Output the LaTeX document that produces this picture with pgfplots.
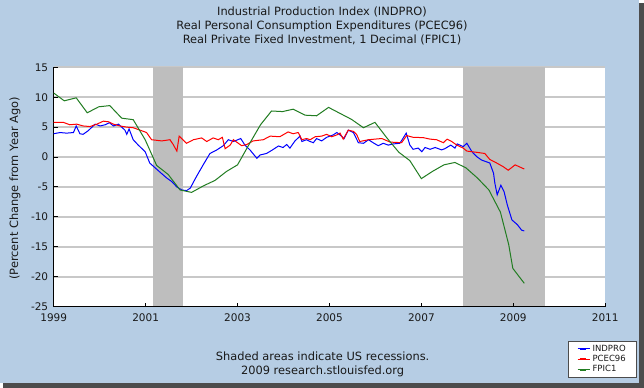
\documentclass[border=0pt]{standalone}
\usepackage{pgfplots}
\pgfplotsset{compat=1.18}
\usepackage{fontspec}
\setmainfont{DejaVu Sans}
\definecolor{bgblue}{RGB}{182,205,228}
\definecolor{recgray}{RGB}{190,190,190}
\definecolor{gridgray}{RGB}{200,200,200}
\definecolor{fgreen}{RGB}{34,125,34}
\definecolor{txt}{RGB}{25,25,25}

\pgfplotstableread{
x y
1999.00 3.9
1999.14 4.1
1999.28 4.0
1999.43 4.1
1999.49 5.2
1999.57 3.9
1999.64 3.8
1999.75 4.4
1999.90 5.5
2000.01 5.2
2000.12 5.4
2000.21 5.75
2000.30 5.2
2000.41 5.5
2000.55 4.5
2000.59 3.8
2000.64 4.7
2000.73 2.9
2000.84 2.0
2000.99 0.9
2001.09 -1.0
2001.31 -2.5
2001.46 -3.5
2001.57 -4.1
2001.68 -5.0
2001.79 -5.5
2001.89 -5.6
2001.97 -5.2
2002.11 -3.2
2002.26 -1.2
2002.40 0.6
2002.55 1.2
2002.69 1.9
2002.80 2.9
2002.91 2.6
2003.07 3.1
2003.16 2.0
2003.27 1.2
2003.42 -0.2
2003.49 0.35
2003.63 0.6
2003.74 1.1
2003.89 1.85
2003.99 1.6
2004.07 2.1
2004.14 1.5
2004.25 2.7
2004.36 3.5
2004.40 2.6
2004.50 2.9
2004.58 2.6
2004.65 2.4
2004.72 3.1
2004.83 2.7
2004.94 3.3
2005.08 3.7
2005.16 4.1
2005.23 3.7
2005.32 3.1
2005.41 4.5
2005.52 4.1
2005.63 2.4
2005.74 2.3
2005.85 2.9
2005.95 2.4
2006.06 1.9
2006.17 2.3
2006.28 2.0
2006.39 2.2
2006.53 2.3
2006.59 3.0
2006.67 4.0
2006.75 2.0
2006.82 1.3
2006.93 1.5
2007.01 0.9
2007.08 1.6
2007.19 1.3
2007.30 1.6
2007.44 1.2
2007.51 1.4
2007.64 2.0
2007.73 1.5
2007.78 2.2
2007.91 1.75
2007.99 2.3
2008.10 0.9
2008.20 0.1
2008.31 -0.5
2008.42 -0.8
2008.49 -1.0
2008.57 -2.7
2008.60 -4.4
2008.65 -6.3
2008.73 -4.7
2008.80 -5.8
2008.87 -8.0
2008.97 -10.5
2009.09 -11.3
2009.18 -12.2
2009.24 -12.35
}\indpro

\pgfplotstableread{
x y
1999.00 5.8
1999.21 5.8
1999.35 5.4
1999.50 5.5
1999.64 5.2
1999.79 5.1
1999.94 5.5
2000.08 6.0
2000.19 5.9
2000.30 5.5
2000.44 5.2
2000.59 5.0
2000.73 4.9
2000.88 4.5
2001.02 4.1
2001.13 2.9
2001.35 2.7
2001.53 2.9
2001.60 2.1
2001.68 1.0
2001.73 3.5
2001.89 2.3
2002.04 2.9
2002.22 3.2
2002.33 2.6
2002.47 3.2
2002.58 2.9
2002.67 3.3
2002.73 1.4
2002.84 2.0
2002.91 2.9
2003.09 1.9
2003.20 2.1
2003.34 2.7
2003.56 2.9
2003.71 3.5
2003.92 3.4
2004.10 4.2
2004.21 3.9
2004.32 4.1
2004.40 2.9
2004.50 3.1
2004.58 2.9
2004.69 3.4
2004.83 3.5
2004.94 3.8
2005.05 3.4
2005.16 3.7
2005.23 4.0
2005.30 3.0
2005.41 4.5
2005.52 4.3
2005.59 3.8
2005.66 2.6
2005.85 2.9
2005.99 3.0
2006.14 3.1
2006.32 2.5
2006.57 2.4
2006.68 3.6
2006.82 3.3
2007.04 3.25
2007.19 3.0
2007.33 2.9
2007.48 2.4
2007.56 3.0
2007.66 2.6
2007.77 2.0
2007.91 1.5
2007.99 1.0
2008.20 0.8
2008.38 0.6
2008.49 -0.4
2008.64 -1.0
2008.78 -1.6
2008.89 -2.2
2009.04 -1.3
2009.24 -2.0
}\pcec

\pgfplotstableread{
x y
1999.00 10.7
1999.23 9.4
1999.49 9.9
1999.73 7.4
1999.98 8.4
2000.22 8.6
2000.48 6.5
2000.73 6.25
2000.99 2.9
2001.24 -1.4
2001.49 -2.9
2001.75 -5.5
2002.00 -5.9
2002.26 -4.8
2002.51 -3.9
2002.76 -2.4
2003.00 -1.3
2003.25 2.1
2003.50 5.4
2003.74 7.7
2003.98 7.6
2004.21 8.0
2004.47 7.0
2004.72 6.9
2004.98 8.3
2005.23 7.3
2005.48 6.3
2005.74 4.9
2005.99 5.8
2006.25 3.2
2006.51 0.8
2006.75 -0.6
2007.00 -3.6
2007.24 -2.4
2007.49 -1.3
2007.73 -0.9
2007.97 -1.8
2008.22 -3.5
2008.47 -5.5
2008.72 -9.2
2008.90 -14.6
2008.99 -18.6
2009.24 -21.1
}\fpic

\begin{document}
\begin{tikzpicture}
\useasboundingbox (0bp,0bp) rectangle (644bp,388bp);
\fill[black!70] (3bp,0bp) rectangle (644bp,385bp);
\fill[bgblue] (0bp,4.5bp) rectangle (638.5bp,388bp);

% background axis: white area, grid, recession shading
\begin{axis}[
  at={(53.7bp,81.3bp)}, anchor=south west,
  scale only axis, width=551.5bp, height=239.4bp,
  xmin=1999, xmax=2011, ymin=-25, ymax=15,
  axis x line*=bottom, axis y line*=left,
  axis line style={draw=none}, tick style={draw=none},
  xtick={1999,2001,...,2011}, ytick={-25,-20,...,15},
  xticklabels={}, yticklabels={},
  ymajorgrids, grid style={gridgray, line width=1.6bp},
  axis background/.style={fill=white},
]
\addplot[fill=recgray, draw=none] coordinates {(2001.15,-25) (2001.15,15) (2001.82,15) (2001.82,-25)} -- cycle;
\addplot[fill=recgray, draw=none] coordinates {(2007.90,-25) (2007.90,15) (2009.69,15) (2009.69,-25)} -- cycle;
\end{axis}

% foreground axis: axis lines, ticks, labels, data, legend
\begin{axis}[
  at={(53.7bp,81.3bp)}, anchor=south west,
  scale only axis, width=551.5bp, height=239.4bp,
  xmin=1999, xmax=2011, ymin=-25, ymax=15,
  axis x line*=bottom, axis y line*=left,
  axis line style={black, line width=1bp},
  tick align=inside, major tick length=4bp,
  tick style={black, line width=1bp},
  xtick={1999,2001,...,2011}, ytick={-25,-20,...,15},
  /pgf/number format/assume math mode=true,
  ticklabel style={font=\fontsize{10.5bp}{12bp}\selectfont, text=txt},
  x tick label style={/pgf/number format/1000 sep={}, yshift=-3bp},
  y tick label style={xshift=-2bp},
  ylabel={(Percent Change from Year Ago)},
  ylabel style={font=\fontsize{11.4bp}{13bp}\selectfont, text=txt,
    at={(axis description cs:-0.0702,0.494)}, anchor=center},
  legend style={at={(axis description cs:1.057,-0.142)}, anchor=north east,
    draw=black!70, fill=white, line width=0.8bp,
    font=\fontsize{8.5bp}{10bp}\selectfont, text=txt,
    inner xsep=8.5bp, inner ysep=2bp, row sep=-1.5bp},
  legend cell align=left,
  legend image code/.code={\path (0bp,0bp) -- (12.5bp,0bp);
    \draw[#1, line width=2bp] (2bp,0bp) -- (8bp,0bp);},
]
\addplot[blue, line width=1bp] table[x=x,y=y] {\indpro};
\addlegendentry{INDPRO}
\addplot[red, line width=1bp] table[x=x,y=y] {\pcec};
\addlegendentry{PCEC96}
\addplot[fgreen, line width=1bp] table[x=x,y=y] {\fpic};
\addlegendentry{FPIC1}
\end{axis}

\node[anchor=base, font=\fontsize{11.4bp}{13bp}\selectfont, text=txt] at (322bp,372.3bp) {Industrial Production Index (INDPRO)};
\node[anchor=base, font=\fontsize{11.4bp}{13bp}\selectfont, text=txt] at (322bp,358.3bp) {Real Personal Consumption Expenditures (PCEC96)};
\node[anchor=base, font=\fontsize{11.4bp}{13bp}\selectfont, text=txt] at (322bp,344bp) {Real Private Fixed Investment, 1 Decimal (FPIC1)};
\node[anchor=base, font=\fontsize{11.4bp}{13bp}\selectfont, text=txt] at (322.6bp,27.3bp) {Shaded areas indicate US recessions.};
\node[anchor=base, font=\fontsize{11.4bp}{13bp}\selectfont, text=txt] at (322.6bp,13.3bp) {2009 research.stlouisfed.org};
\end{tikzpicture}
\end{document}
